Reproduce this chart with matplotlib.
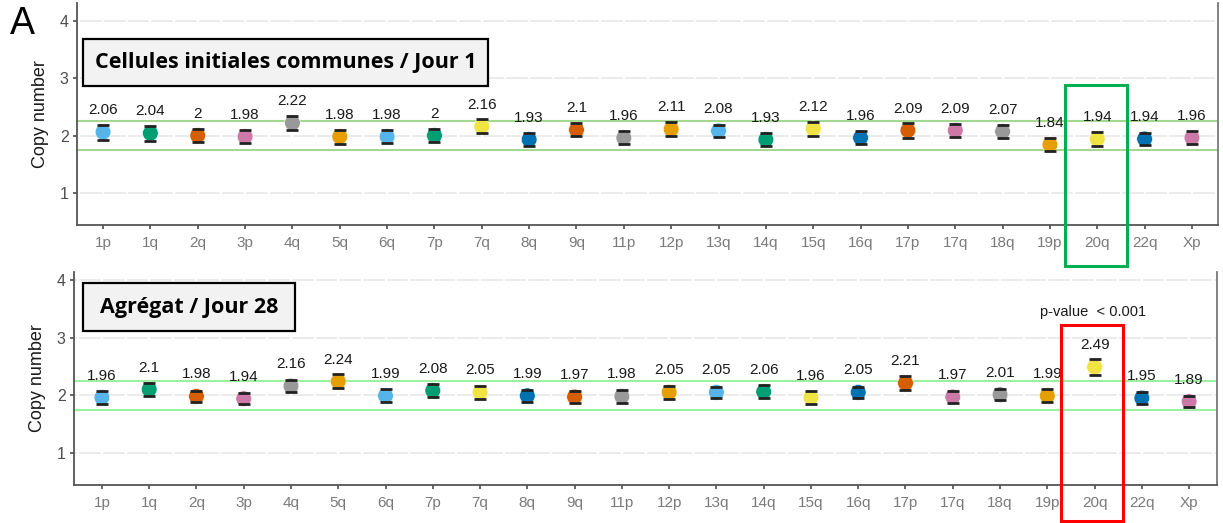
import matplotlib
matplotlib.use("Agg")
import matplotlib.pyplot as plt
from matplotlib.patches import Rectangle

arms = ["1p", "1q", "2q", "3p", "4q", "5q", "6q", "7p", "7q", "8q", "9q", "11p",
        "12p", "13q", "14q", "15q", "16q", "17p", "17q", "18q", "19p", "20q", "22q", "Xp"]

day1_values = [2.06, 2.04, 2, 1.98, 2.22, 1.98, 1.98, 2, 2.16, 1.93, 2.1, 1.96,
               2.11, 2.08, 1.93, 2.12, 1.96, 2.09, 2.09, 2.07, 1.84, 1.94, 1.94, 1.96]
day1_err = [0.13, 0.13, 0.12, 0.11, 0.12, 0.12, 0.11, 0.12, 0.12, 0.11, 0.11, 0.11,
            0.12, 0.11, 0.12, 0.12, 0.11, 0.13, 0.11, 0.11, 0.11, 0.12, 0.11, 0.11]

day28_values = [1.96, 2.1, 1.98, 1.94, 2.16, 2.24, 1.99, 2.08, 2.05, 1.99, 1.97, 1.98,
                2.05, 2.05, 2.06, 1.96, 2.05, 2.21, 1.97, 2.01, 1.99, 2.49, 1.95, 1.89]
day28_err = [0.11, 0.12, 0.1, 0.1, 0.11, 0.12, 0.11, 0.11, 0.11, 0.1, 0.1, 0.11,
             0.11, 0.1, 0.11, 0.11, 0.1, 0.12, 0.1, 0.1, 0.11, 0.14, 0.1, 0.1]

arm_colors = ["#56B4E9", "#009E73", "#D55E00", "#CC79A7", "#999999", "#E69F00",
              "#56B4E9", "#009E73", "#F0E442", "#0072B2", "#D55E00", "#999999",
              "#E69F00", "#56B4E9", "#009E73", "#F0E442", "#0072B2", "#D55E00",
              "#CC79A7", "#999999", "#E69F00", "#F0E442", "#0072B2", "#CC79A7"]

normal_band = [1.75, 2.25]
y_ticks = [1, 2, 3, 4]

plt.rcParams["font.family"] = ["Liberation Sans", "DejaVu Sans"]

W, H = 1223, 523
fig = plt.figure(figsize=(W / 100, H / 100), dpi=100)


def px_axes(left, top, right, bottom):
    return fig.add_axes([left / W, 1 - bottom / H, (right - left) / W, (bottom - top) / H])


def draw_panel(ax, values, errs, xlim, ylim, band_color):
    x = list(range(len(arms)))
    ax.set_xlim(*xlim)
    ax.set_ylim(*ylim)
    # background grid: light horizontal lines interrupted by white verticals
    for yv in y_ticks:
        ax.axhline(yv, color="#ebebeb", lw=1.4, zorder=0)
    for xv in [i * 0.5 for i in range(-1, 2 * len(arms))]:
        ax.axvline(xv, color="white", lw=1.6, zorder=0.5)
    for yv in normal_band:
        ax.axhline(yv, color=band_color, lw=1.5, zorder=1)
    _, caps, bars = ax.errorbar(x, values, yerr=errs, fmt="none", ecolor="#222222",
                                elinewidth=1.5, capsize=4.6, capthick=2.0, zorder=2)
    for c in caps:
        c.set_zorder(4)
    ax.scatter(x, values, s=128, c=arm_colors, edgecolors="white", linewidths=0.4, zorder=3)
    for xi, v in zip(x, values):
        ax.text(xi, v + 0.38, f"{v:g}", ha="center", va="center", fontsize=11,
                color="#1a1a1a", zorder=5)
    ax.set_xticks(x)
    ax.set_xticklabels(arms, fontsize=11, color="#7a7a7a")
    ax.set_yticks(y_ticks)
    ax.set_yticklabels([str(t) for t in y_ticks], fontsize=11.5, color="#4d4d4d")
    ax.tick_params(axis="both", length=3, width=1.2, color="#4d4d4d", pad=3)
    ax.tick_params(axis="x", pad=5)
    ax.set_ylabel("Copy number", fontsize=13, color="#1a1a1a", labelpad=8)
    for side in ["left", "bottom"]:
        ax.spines[side].set_color("#555555")
        ax.spines[side].set_linewidth(1.3)
    ax.spines["right"].set_color("#777777")
    ax.spines["right"].set_linewidth(1.3)
    ax.spines["top"].set_visible(False)


ax1 = px_axes(77, 3, 1218, 225)
draw_panel(ax1, day1_values, day1_err, (-0.55, 23.55), (0.44, 4.31), "#a3d98f")

ax2 = px_axes(74, 272, 1217, 485)
draw_panel(ax2, day28_values, day28_err, (-0.59, 23.59), (0.44, 4.14), "#9df09d")

# panel titles in boxed labels
for (l, t, r, b), label in [((83, 39, 488, 86), "Cellules initiales communes / Jour 1"),
                            ((83, 283, 295, 331), "Agrégat / Jour 28")]:
    fig.patches.append(Rectangle((l / W, 1 - b / H), (r - l) / W, (b - t) / H,
                                 transform=fig.transFigure, facecolor="#f2f2f2",
                                 edgecolor="black", lw=1.6, zorder=5))
    fig.text((l + r) / 2 / W, 1 - (t + b) / 2 / H, label, ha="center", va="center",
             fontsize=15.5, fontweight="bold", family="Open Sans", color="black", zorder=6)

# highlight frames around chromosome 20q
fig.patches.append(Rectangle((1065 / W, 1 - 266 / H), 62 / W, 181 / H,
                             transform=fig.transFigure, facecolor="none",
                             edgecolor="#00b050", lw=2.2, zorder=6))
fig.patches.append(Rectangle((1061 / W, 1 - 521 / H), 62 / W, 196 / H,
                             transform=fig.transFigure, facecolor="none",
                             edgecolor="#ff0000", lw=2.2, zorder=6))

fig.text(1093 / W, 1 - 312 / H, "p-value  < 0.001", ha="center", va="center",
         fontsize=10.5, color="#1a1a1a")
fig.text(10 / W, 1 - 24 / H, "A", ha="left", va="center", fontsize=27, color="black")

fig.savefig("out.png", dpi=100)
